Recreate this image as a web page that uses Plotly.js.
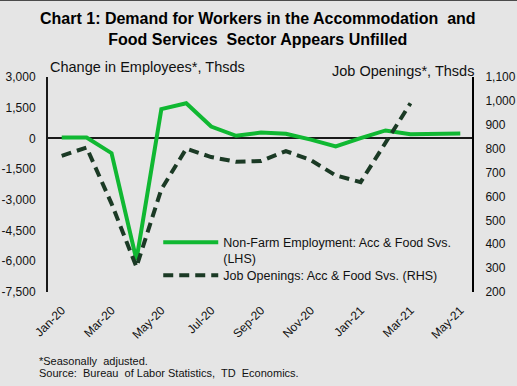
<!DOCTYPE html>
<html>
<head>
<meta charset="utf-8">
<script src="https://cdn.plot.ly/plotly-3.0.1.min.js"></script>
<style>
  html, body { margin: 0; padding: 0; background: #e5e5e5; }
  #chart { width: 517px; height: 386px; }
</style>
</head>
<body>
<div id="chart"></div>
<script>
// ---- Data ----
var months = ['Jan-20','Feb-20','Mar-20','Apr-20','May-20','Jun-20','Jul-20','Aug-20','Sep-20',
              'Oct-20','Nov-20','Dec-20','Jan-21','Feb-21','Mar-21','Apr-21','May-21'];
// Non-farm employment change, accommodation & food services (thousands, LHS)
var employmentChange = [50, 40, -720, -5930, 1430, 1720, 580, 130, 290, 230, -60, -390, 10, 390, 200, 230, 240];
// Job openings, accommodation & food services (thousands, RHS)
var jobOpenings = [770, 805, 570, 305, 630, 800, 765, 745, 748, 790, 752, 688, 660, 825, 990, null, null];

var xTickVals = ['Jan-20','Mar-20','May-20','Jul-20','Sep-20','Nov-20','Jan-21','Mar-21','May-21'];
var leftTickVals = [3000, 1500, 0, -1500, -3000, -4500, -6000, -7500];
var leftTickText = ['3,000', '1,500', '0', '-1,500', '-3,000', '-4,500', '-6,000', '-7,500'];
var rightTickVals = [1100, 1000, 900, 800, 700, 600, 500, 400, 300, 200];
var rightTickText = ['1,100', '1,000', '900', '800', '700', '600', '500', '400', '300', '200'];

var FONT = 'Liberation Sans, Arial, sans-serif';

var traces = [
  {
    x: months, y: employmentChange, type: 'scatter', mode: 'lines',
    name: 'Non-Farm Employment: Acc & Food Svs.<br>(LHS)',
    line: { color: '#10b832', width: 4 },
    yaxis: 'y', legend: 'legend'
  },
  {
    x: months, y: jobOpenings, type: 'scatter', mode: 'lines',
    name: 'Job Openings: Acc & Food Svs. (RHS)',
    line: { color: '#1b3a25', width: 4, dash: '10px,6px' },
    yaxis: 'y2', legend: 'legend2'
  }
];

var legendCommon = {
  xanchor: 'left', yanchor: 'top',
  bgcolor: 'rgba(0,0,0,0)',
  font: { family: FONT, size: 12.5, color: '#111' },
  valign: 'top',
  itemwidth: 55
};

var layout = {
  width: 517, height: 386,
  margin: { l: 48, r: 45, t: 77, b: 94 },
  paper_bgcolor: '#e5e5e5',
  plot_bgcolor: '#e5e5e5',
  font: { family: FONT, color: '#111', size: 12 },
  title: { text: '' },
  showlegend: true,
  legend: Object.assign({ x: 0.26, y: 0.30 }, legendCommon),
  legend2: Object.assign({ x: 0.26, y: 0.1465 }, legendCommon),
  xaxis: {
    type: 'category',
    range: [-0.55, 16.47],
    tickmode: 'array', tickvals: xTickVals, ticktext: xTickVals,
    tickangle: -45,
    showgrid: false, showline: false, zeroline: false,
    ticks: '', ticklabelstandoff: 8,
    tickfont: { family: FONT, size: 12, color: '#111' }
  },
  yaxis: {
    title: { text: '' },
    range: [-7500, 3000],
    tickmode: 'array', tickvals: leftTickVals, ticktext: leftTickText,
    showgrid: false,
    showline: true, linecolor: '#1a1a1a', linewidth: 2,
    zeroline: true, zerolinecolor: '#1a1a1a', zerolinewidth: 2,
    ticks: '', ticklabelstandoff: 8,
    tickfont: { family: FONT, size: 12, color: '#111' }
  },
  yaxis2: {
    title: { text: '' },
    overlaying: 'y', side: 'right', anchor: 'x',
    range: [200, 1100],
    tickmode: 'array', tickvals: rightTickVals, ticktext: rightTickText,
    showgrid: false,
    showline: true, linecolor: '#000', linewidth: 2,
    zeroline: false,
    ticks: '', ticklabelstandoff: 9,
    tickfont: { family: FONT, size: 12, color: '#111' }
  },
  annotations: [
    { text: '<b>Chart 1: Demand for Workers in the Accommodation  and<br>Food Services  Sector Appears Unfilled</b>',
      xref: 'paper', yref: 'paper', x: 0.495, y: 1.224,
      xanchor: 'center', yanchor: 'middle', showarrow: false, align: 'center',
      font: { family: FONT, size: 16, color: '#000' } },
    { text: 'Change in Employees*, Thsds', xref: 'paper', yref: 'paper', x: 0, y: 1.045,
      xanchor: 'left', yanchor: 'middle', showarrow: false,
      font: { family: FONT, size: 14.5, color: '#111' } },
    { text: 'Job Openings*, Thsds', xref: 'paper', yref: 'paper', x: 1.01, y: 1.03,
      xanchor: 'right', yanchor: 'middle', showarrow: false,
      font: { family: FONT, size: 14.5, color: '#111' } },
    { text: '*Seasonally  adjusted.', xref: 'paper', yref: 'paper', x: -0.026, y: -0.321,
      xanchor: 'left', yanchor: 'middle', showarrow: false,
      font: { family: FONT, size: 11, color: '#111' } },
    { text: 'Source:  Bureau  of Labor Statistics,  TD  Economics.', xref: 'paper', yref: 'paper', x: -0.026, y: -0.375,
      xanchor: 'left', yanchor: 'middle', showarrow: false,
      font: { family: FONT, size: 11, color: '#111' } }
  ],
  shapes: [
    { type: 'line', xref: 'paper', yref: 'paper', x0: -0.2, x1: 1.2, y0: 1.356, y1: 1.356,
      line: { color: '#444', width: 1 } }
  ]
};

Plotly.newPlot('chart', traces, layout, { displayModeBar: false, staticPlot: true });
</script>
</body>
</html>
